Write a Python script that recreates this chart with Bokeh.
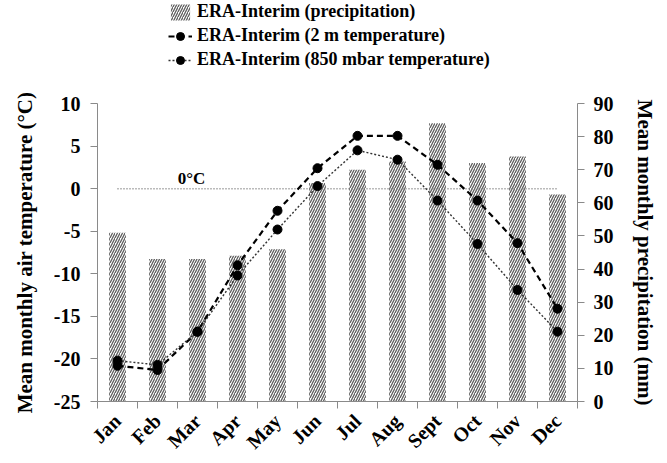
from math import pi

from bokeh.embed import file_html
from bokeh.layouts import column
from bokeh.models import (ColumnDataSource, FixedTicker, Label, Legend,
                          LegendItem, LinearAxis, Range1d)
from bokeh.plotting import figure
from bokeh.resources import INLINE

# Monthly climatology (ERA-Interim)
months = ["Jan", "Feb", "Mar", "Apr", "May", "Jun",
          "Jul", "Aug", "Sept", "Oct", "Nov", "Dec"]
precip_mm = [51, 43, 43, 44, 46, 66, 70, 72.5, 84, 72, 74, 62.5]
temp_2m = [-20.8, -21.3, -16.8, -9.0, -2.6, 2.4, 6.2, 6.2, 2.8, -1.4, -6.4, -14.1]
temp_850 = [-20.2, -20.7, -16.8, -10.2, -4.8, 0.3, 4.5, 3.4, -1.4, -6.5, -11.9, -16.8]

temp_ticks = [-25, -20, -15, -10, -5, 0, 5, 10]
precip_ticks = [0, 10, 20, 30, 40, 50, 60, 70, 80, 90]
freezing = 0

FONT = "Liberation Serif"
GREY = "#8a8a8a"

BAR_STYLE = dict(fill_color="white", line_color=None, hatch_pattern="/",
                 hatch_color="#5e5e5e", hatch_scale=5, hatch_weight=1.3)
T2M_LINE = dict(line_color="black", line_width=2.2, line_dash="6 4")
T850_LINE = dict(line_color="#333333", line_width=1.4, line_dash="2 2")
MARKER = dict(size=9, color="black")

# month i sits in the middle of the slot [i, i + 1]
x_mid = [i + 0.5 for i in range(len(months))]
x_edges = list(range(len(months) + 1))

p = figure(width=667, height=370,
           x_range=Range1d(0, len(months)),
           y_range=Range1d(temp_ticks[0], temp_ticks[-1]),
           x_axis_location=None,
           output_backend="svg", toolbar_location=None,
           min_border_left=97, min_border_right=90,
           min_border_top=10, min_border_bottom=58)
p.outline_line_color = None
p.grid.visible = False
p.background_fill_color = "white"

p.extra_y_ranges = {"precip": Range1d(precip_ticks[0], precip_ticks[-1])}

# precipitation bars (right axis)
p.vbar(x=x_mid, top=precip_mm, bottom=0, width=0.42,
       y_range_name="precip", **BAR_STYLE)

# 0 °C reference line
p.segment(x0=[x_mid[0]], y0=[freezing], x1=[x_mid[-1]], y1=[freezing],
          line_color="#777777", line_width=1.5, line_dash="1 2")
p.add_layout(Label(x=2.35, y=freezing, text="0°C", text_align="center",
                   text_baseline="bottom", y_offset=1,
                   text_font=FONT, text_font_style="bold",
                   text_font_size="17px", text_color="black"))

# temperatures (left axis)
p.line(x_mid, temp_2m, **T2M_LINE)
p.scatter(x_mid, temp_2m, **MARKER)
p.line(x_mid, temp_850, **T850_LINE)
p.scatter(x_mid, temp_850, **MARKER)

def style_axis(ax):
    ax.axis_line_color = GREY
    ax.major_tick_line_color = GREY
    ax.minor_tick_line_color = GREY
    ax.major_tick_out = 7
    ax.major_tick_in = 0
    ax.minor_tick_out = 0
    ax.minor_tick_in = 0
    ax.major_label_text_font = FONT
    ax.major_label_text_font_style = "bold"
    ax.major_label_text_font_size = "20px"
    ax.major_label_text_color = "black"
    ax.axis_label_text_font = FONT
    ax.axis_label_text_font_style = "bold"
    ax.axis_label_text_font_size = "21px"
    ax.axis_label_text_color = "black"

# left axis
yl = p.yaxis[0]
style_axis(yl)
yl.ticker = FixedTicker(ticks=temp_ticks)
yl.major_label_overrides = {t: str(t) for t in temp_ticks}
yl.major_label_standoff = 10
yl.axis_label = "Mean monthly air temperature (°C)"
yl.axis_label_standoff = 14

# right axis
yr = LinearAxis(y_range_name="precip", ticker=FixedTicker(ticks=precip_ticks))
style_axis(yr)
yr.major_label_standoff = 9
yr.axis_label = "Mean monthly precipitation (mm)"
yr.axis_label_standoff = 16
p.add_layout(yr, "right")

# bottom: month names in the middle of each slot, ticks at the slot edges
xm = LinearAxis(ticker=FixedTicker(ticks=x_mid, minor_ticks=x_edges),
                major_label_overrides={x: m for x, m in zip(x_mid, months)})
style_axis(xm)
xm.major_tick_line_color = None
xm.major_tick_out = 0
xm.minor_tick_out = 7
xm.major_label_orientation = pi / 4
xm.major_label_standoff = 9
xm.major_label_text_font_size = "20px"
p.add_layout(xm, "below")

# legend strip above the chart: placeholder renderers (a single undefined
# point each) carry the series styles so that only the key itself is drawn
key = figure(width=667, height=93, x_range=Range1d(0, 1), y_range=Range1d(0, 1),
             x_axis_location=None, y_axis_location=None,
             output_backend="svg", toolbar_location=None,
             min_border_left=0, min_border_right=0,
             min_border_top=0, min_border_bottom=0)
key.outline_line_color = None
key.grid.visible = False
blank = ColumnDataSource(data=dict(x=[float("nan")], y=[float("nan")]))
kb = key.vbar(x="x", top="y", width=0.42, source=blank, **BAR_STYLE)
k2l = key.line("x", "y", source=blank, **T2M_LINE)
k2s = key.scatter("x", "y", source=blank, **MARKER)
k8l = key.line("x", "y", source=blank, **T850_LINE)
k8s = key.scatter("x", "y", source=blank, **MARKER)

legend = Legend(items=[
    LegendItem(label="ERA-Interim (precipitation)", renderers=[kb]),
    LegendItem(label="ERA-Interim (2 m temperature)", renderers=[k2l, k2s]),
    LegendItem(label="ERA-Interim (850 mbar temperature)", renderers=[k8l, k8s]),
], location=(71, 23))
legend.border_line_color = None
legend.background_fill_alpha = 0
legend.padding = 0
legend.margin = 0
legend.spacing = 3
legend.glyph_width = 24
legend.glyph_height = 20
legend.label_height = 20
legend.label_standoff = 5
legend.label_text_font = FONT
legend.label_text_font_style = "bold"
legend.label_text_font_size = "18px"
legend.label_text_color = "black"
key.add_layout(legend)

layout = column(key, p, spacing=0)
open("out.html", "w").write(file_html(layout, INLINE))
